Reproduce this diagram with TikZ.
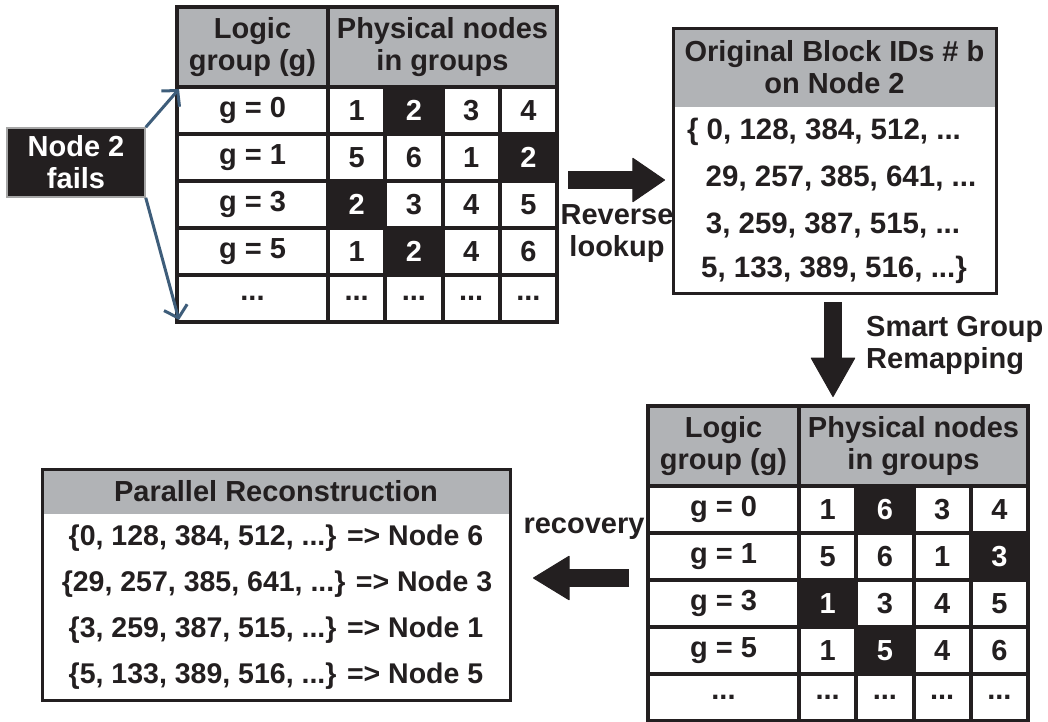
\documentclass[tikz,border=0pt]{standalone}
\usepackage{fontspec}
\setmainfont{Liberation Sans}
\usetikzlibrary{arrows.meta}
\definecolor{hdr}{RGB}{177,179,182}
\definecolor{ink}{RGB}{35,31,32}
\definecolor{steel}{RGB}{62,93,122}
\newcommand\tdots{...}
\tikzset{
  txt/.style={font=\fontsize{29}{32}\selectfont\bfseries, text=ink},
  cellbox/.style={fill=white, inner sep=0pt, outer sep=0pt, txt, align=center},
  hot/.style={fill=ink, text=white},
  hdrbox/.style={fill=hdr},
  hl/.code args={#1/#2}{\ifnum#1=#2\relax\tikzset{hot}\fi},
  bigarrow/.style={draw=ink, line width=18pt,
    -{Triangle[length=#1, width=45pt, line width=1pt, round]}},
  thinarrow/.style={draw=steel, line width=3pt,
    -{Straight Barb[length=11pt, width=24pt, line width=3pt]}},
  oblines/.style={font=\fontsize{29.5}{32}\selectfont\bfseries, text=ink, inner sep=0pt},
  prlines/.style={font=\fontsize{28.5}{32}\selectfont\bfseries, text=ink, inner sep=0pt},
}
% #1 prefix, #2 X, #3 Y, #4 rows
\newcommand\mktable[4]{%
  \draw[line width=4pt, draw=ink, fill=ink] (#2,#3) rectangle ++(380,315);
  \node[cellbox, hdrbox, minimum width=147pt, minimum height=76pt] (#1-h0) at (#2+75.5,#3+40) {Logic\\group (g)};
  \node[cellbox, hdrbox, minimum width=225pt, minimum height=76pt] (#1-h1) at (#2+265.5,#3+40) {Physical nodes\\in groups};
  \foreach \r/\g/\a/\b/\c/\d/\h in {#4}{
    \node[cellbox, minimum width=147pt, minimum height=43pt] (#1-\r-0) at (#2+75.5,#3+80+47*\r-23.5) {\g};
    \foreach \i/\v in {1/\a,2/\b,3/\c,4/\d}{
      \node[cellbox, minimum width=53.25pt, minimum height=43pt, hl=\i/\h] (#1-\r-\i) at (#2+151+57.25*\i-28.625,#3+80+47*\r-23.5) {\v};
    }
  }
}
\begin{document}
\begin{tikzpicture}[x=1pt,y=-1pt]
\useasboundingbox (0,0) rectangle (1048,721);

% top-left table
\mktable{t1}{177}{7}{1/{g = 0}/1/2/3/4/2, 2/{g = 1}/5/6/1/2/4, 3/{g = 3}/2/3/4/5/1, 4/{g = 5}/1/2/4/6/2, 5/\tdots/\tdots/\tdots/\tdots/\tdots/0}

% failing node
\node[fill=ink, draw=gray!70, line width=1.5pt, minimum width=138pt, minimum height=69pt,
      txt, text=white, align=center, inner sep=0pt] (fail) at (76,162.5) {Node 2\\fails};
\draw[thinarrow] (fail.north east) -- (t1-1-0.north west);
\draw[thinarrow] (fail.south east) -- (t1-5-0.south west);

% original block IDs box
\node[fill=hdr, minimum width=323pt, minimum height=79pt, inner sep=0pt, txt, align=center] (obh) at (834.5,67.5) {Original Block IDs \# b\\on Node 2};
\node[draw=ink, line width=3pt, minimum width=323pt, minimum height=265pt, inner sep=0pt] (ob) at (834.5,160.5) {};
\node[oblines] (ob1) at (824,132) {\{ 0, 128, 384, 512, ...};
\node[oblines] (ob2) at (841,178) {29, 257, 385, 641, ...};
\node[oblines] (ob3) at (833,225) {3, 259, 387, 515, ...};
\node[oblines] (ob4) at (834,270) {5, 133, 389, 516, ...\}};

% reverse lookup arrow
\coordinate (rvS) at (568,180);
\coordinate (rvE) at (665,180);
\draw[bigarrow=33pt] (rvS) -- (rvE);
\node[txt, align=center, inner sep=0pt] (rvL) at (617,234) {Reverse\\lookup};

% bottom-right table
\mktable{t2}{648}{406}{1/{g = 0}/1/6/3/4/2, 2/{g = 1}/5/6/1/3/4, 3/{g = 3}/1/3/4/5/1, 4/{g = 5}/1/5/4/6/2, 5/\tdots/\tdots/\tdots/\tdots/\tdots/0}

% smart group remapping arrow
\coordinate (dnS) at (833,302);
\coordinate (dnE) at (833,397);
\draw[bigarrow=40pt] (dnS) -- (dnE);
\node[txt, align=left, anchor=west, inner sep=0pt] (sgL) at (866,345) {Smart Group\\Remapping};

% parallel reconstruction box
\node[fill=hdr, minimum width=468pt, minimum height=45pt, inner sep=0pt, txt] (prh) at (276,491.5) {Parallel Reconstruction};
\node[draw=ink, line width=3pt, minimum width=468pt, minimum height=231pt, inner sep=0pt] (pr) at (276,584.5) {};
\node[prlines] (pr1) at (276,538) {\{0, 128, 384, 512, ...\} => Node 6};
\node[prlines] (pr2) at (277,584) {\{29, 257, 385, 641, ...\} => Node 3};
\node[prlines] (pr3) at (276,630) {\{3, 259, 387, 515, ...\} => Node 1};
\node[prlines] (pr4) at (276,676) {\{5, 133, 389, 516, ...\} => Node 5};

% recovery arrow
\coordinate (rcS) at (629,578);
\coordinate (rcE) at (533,578);
\draw[bigarrow=37pt] (rcS) -- (rcE);
\node[txt, inner sep=0pt] (rcL) at (584,529) {recovery};
\end{tikzpicture}
\end{document}
